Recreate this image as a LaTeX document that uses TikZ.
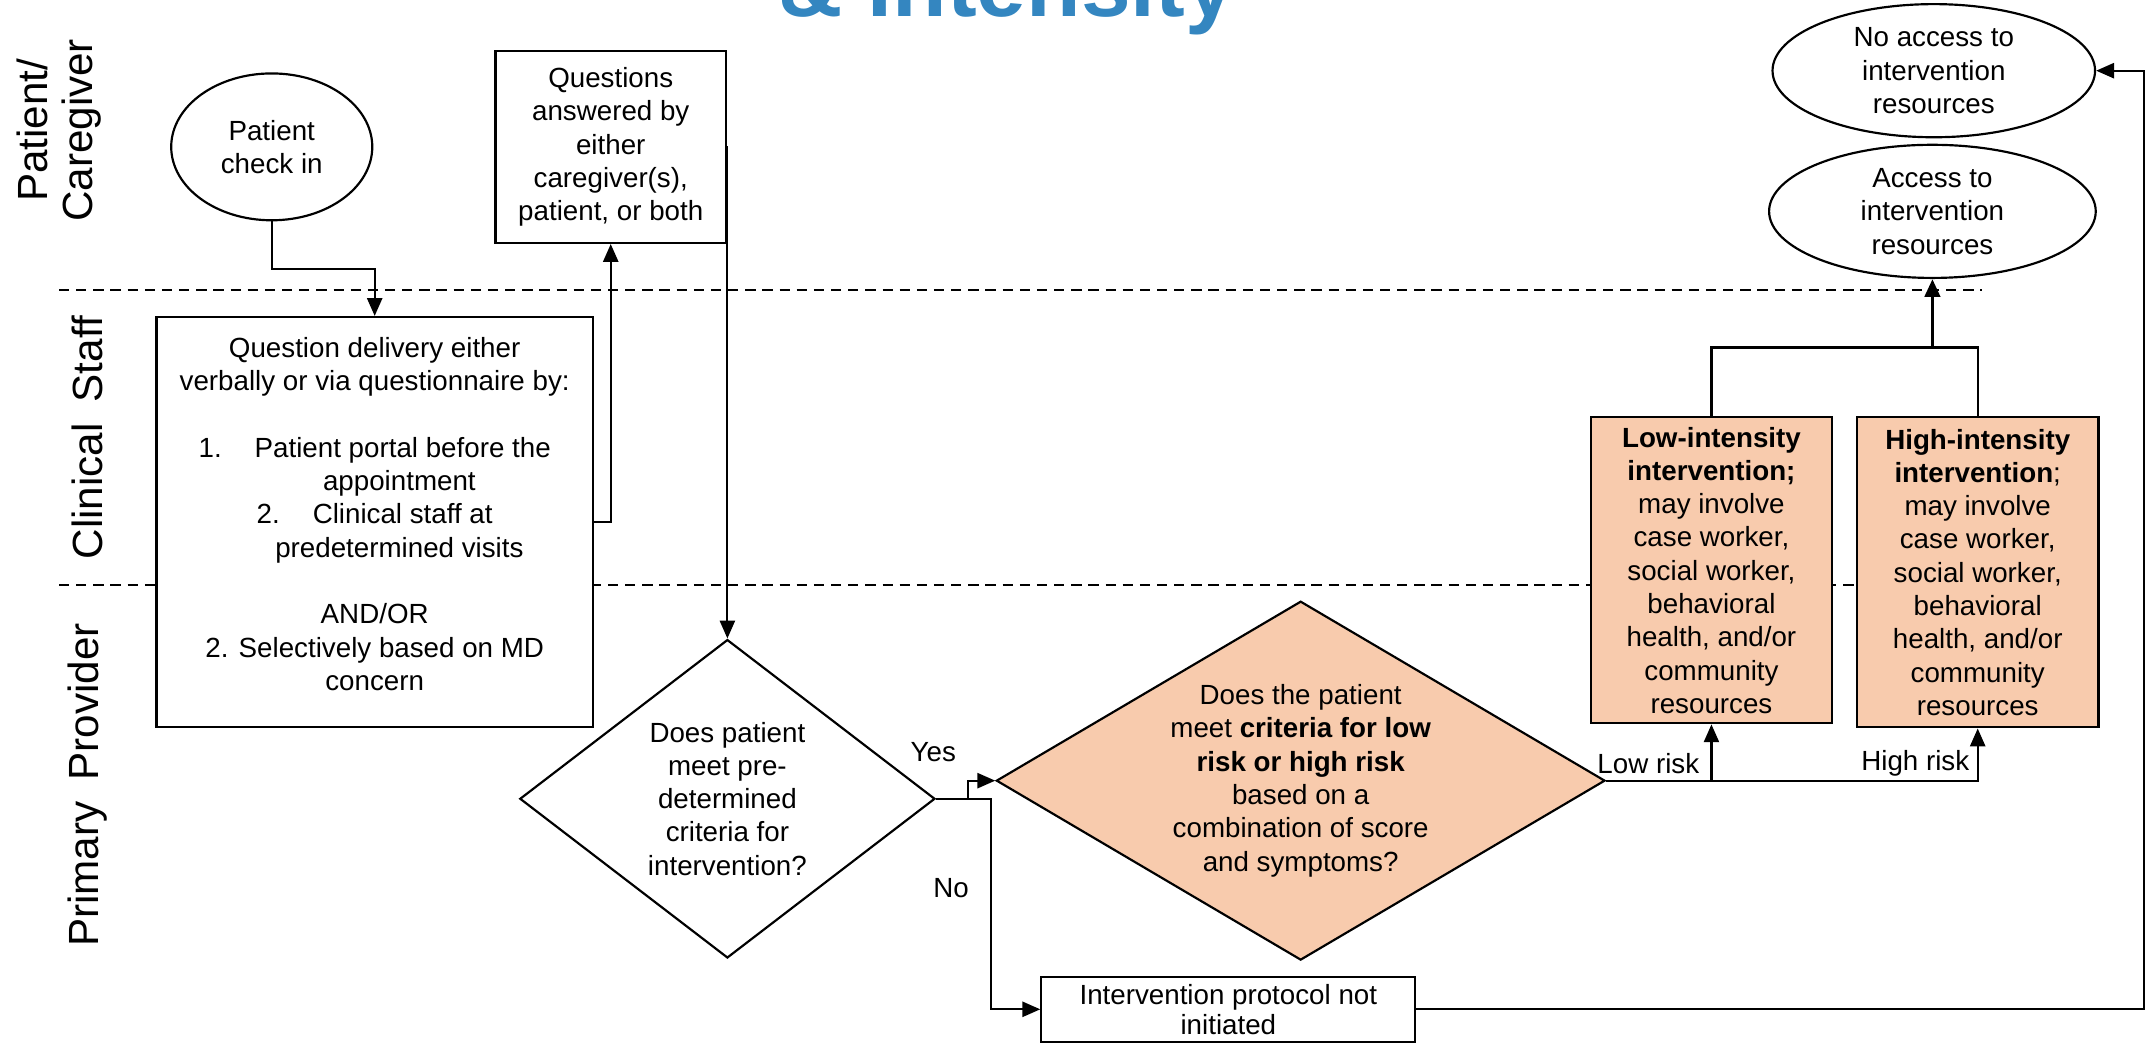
\documentclass[tikz,border=0pt]{standalone}
\usepackage{fontspec}
\setmainfont{Liberation Sans}
\usetikzlibrary{shapes.geometric,arrows.meta}
\definecolor{riskfill}{RGB}{248,203,173}
\definecolor{ttlblue}{RGB}{52,134,192}
\tikzset{
	box/.style={draw, line width=0.9pt, fill=white, inner sep=0pt, align=center},
	oval/.style={draw, ellipse, line width=0.9pt, fill=white, inner sep=0pt, align=center},
	dec/.style={draw, diamond, line width=0.9pt, fill=white, inner sep=0pt, align=center},
	arr/.style={line width=0.9pt, -{Triangle[length=2.6mm,width=2.2mm]}},
	lane/.style={line width=0.9pt, dash pattern=on 1.5mm off 1mm},
	lanelbl/.style={rotate=90, align=center, inner sep=0pt, font=\fontsize{17.5}{18.5}\selectfont},
	lbl/.style={inner sep=1pt}
}
\begin{document}
\begin{tikzpicture}[x=0.2mm, y=-0.2mm, font=\fontsize{11.5}{13.8}\selectfont]
	\useasboundingbox (0,0) rectangle (1568,760);
	%title
	\node[anchor=base west, inner sep=0pt, text=ttlblue, font=\fontsize{37}{40}\selectfont\bfseries] (ttl) at (567,12) {\& Intensity};
	%lanes
	\foreach \y in {211,426}
	\draw[lane] (43,\y) -- (1444,\y);
	\node[lanelbl] (lnpat) at (43,95) {Patient/\\Caregiver};
	\node[lanelbl] (lnstaff) at (64,319) {Clinical\hspace{0.5em}Staff};
	\node[lanelbl] (lnprov) at (64,572) {Primary\hspace{0.5em}Provider};
	%patient
	\node[oval, minimum width=29.3mm, minimum height=21.4mm] (pci) at (198,107) {Patient\\check in};
	\node[box, minimum width=33.6mm, minimum height=28mm] (qans) at (445,107)
	{Questions\\answered by\\either\\caregiver(s),\\patient, or both};
	%staff
	\node[box, minimum width=63.6mm, minimum height=59.8mm] (qdel) at (273,380.5)
	{Question delivery either\\
		verbally or via questionnaire by:\\[13.8pt]
		1.\hspace{4.8mm}Patient portal before the\\
		\hspace*{7.2mm}appointment\\
		2.\hspace{4.8mm}Clinical staff at\\
		\hspace*{7.2mm}predetermined visits\\[13.8pt]
		AND/OR\\
		2. Selectively based on MD\\
		concern\\[-2.4mm]\mbox{}};
	%provider
	\node[dec, minimum width=60.5mm, minimum height=46.4mm, aspect=1.3] (crit) at (530,582)
	{Does patient\\meet pre-\\determined\\criteria for\\intervention?};
	\node[dec, fill=riskfill, minimum width=88.7mm, minimum height=52.3mm, aspect=1.7] (risk) at (947.7,568.8)
	{Does the patient\\meet \textbf{criteria for low}\\\textbf{risk or high risk}\\based on a\\combination of score\\and symptoms?};
	\node[box, minimum width=54.5mm, minimum height=9.5mm, font=\fontsize{11.5}{12.5}\selectfont] (notinit) at (895,735.4)
	{Intervention protocol not\\initiated};
	%interventions
	\node[box, fill=riskfill, minimum width=35.2mm, minimum height=44.6mm] (lowint) at (1247,415.5)
	{\textbf{Low-intensity}\\\textbf{intervention;}\\may involve\\case worker,\\social worker,\\behavioral\\health, and/or\\community\\resources};
	\node[box, fill=riskfill, minimum width=35.2mm, minimum height=45.2mm] (highint) at (1441,417)
	{\textbf{High-intensity}\\\textbf{intervention};\\may involve\\case worker,\\social worker,\\behavioral\\health, and/or\\community\\resources};
	%outcomes
	\node[oval, minimum width=47.6mm, minimum height=19.4mm] (access) at (1408,154)
	{Access to\\intervention\\resources};
	\node[oval, minimum width=47mm, minimum height=19.4mm] (noaccess) at (1409,51.5)
	{No access to\\intervention\\resources};
	%labels
	\node[lbl] (yes) at (680,548) {Yes};
	\node[lbl] (no) at (693,647) {No};
	\node[lbl] (lowrisk) at (1201,556) {Low risk};
	\node[lbl] (highrisk) at (1395.5,556) {High risk};
	%connectors
	\draw[arr] (pci.south) -- ++(0,35) -| (qdel.north);
	\draw[arr] (qdel.east) -| (qans.south);
	\draw[arr] (qans.east) -| (crit.north);
	\draw[arr] (crit.east) -- ++(23,0) |- (risk.west);
	\draw[arr] (crit.east) -- ++(40,0) |- (notinit.west);
	\draw[arr] (risk.east) -| (lowint.south);
	\draw[arr] (risk.east) -| (highint.south);
	\draw[line width=0.9pt] (lowint.north) -- ++(0,-50) -| (highint.north);
	\coordinate (join) at (1408,254);
	\draw[arr, line width=1.6pt] (join) -- (access.south);
	\draw[arr] (notinit.east) -- ++(530,0) |- (noaccess.east);
\end{tikzpicture}
\end{document}
